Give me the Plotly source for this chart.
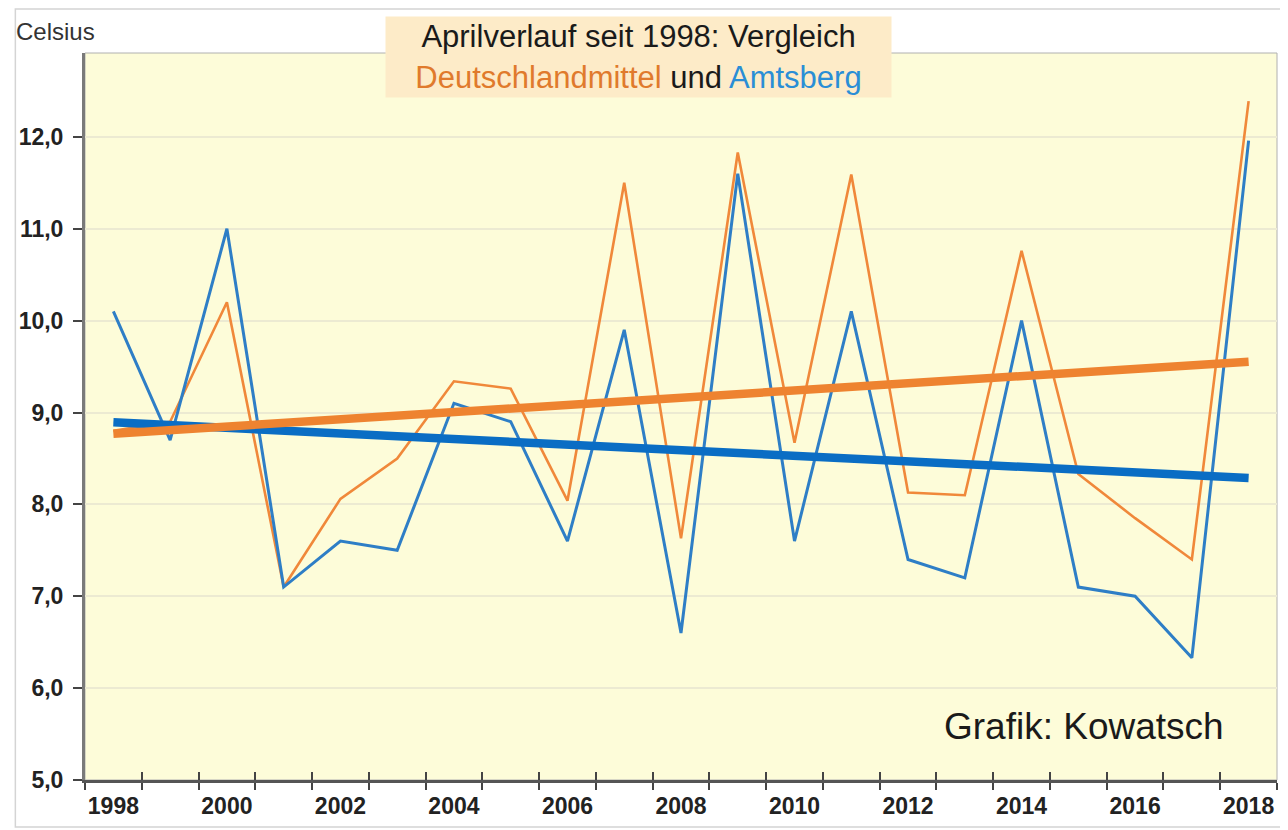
import numpy as np
import plotly.graph_objects as go

# ---------------- data ----------------
years = list(range(1998, 2019))
deutschland = [8.8, 8.9, 10.2, 7.1, 8.06, 8.5, 9.34, 9.26, 8.04, 11.5, 7.63,
               11.83, 8.67, 11.59, 8.13, 8.10, 10.76, 8.33, 7.85, 7.40, 12.39]
amtsberg = [10.1, 8.7, 11.0, 7.1, 7.6, 7.5, 9.1, 8.9, 7.6, 9.9, 6.6,
            11.6, 7.6, 10.1, 7.4, 7.2, 10.0, 7.1, 7.0, 6.33, 11.96]
label_years = list(range(1998, 2019, 2))

# linear trends computed from the data
trend_years = [years[0], years[-1]]
d_fit = np.polyfit(years, deutschland, 1)
a_fit = np.polyfit(years, amtsberg, 1)
d_trend = list(np.polyval(d_fit, trend_years))
a_trend = list(np.polyval(a_fit, trend_years))

# ---------------- style ----------------
FONT = "Liberation Sans, Arial, sans-serif"
ORANGE = "#f0883a"
ORANGE_T = "#ee8330"
BLUE = "#2e7ec6"
BLUE_T = "#0a6dc4"

# page has an 8px body margin -> figure is placed at (8, 8)
OFF = 8
W, H = 1288 - OFF, 830 - OFF
# plot area in page pixels
L, R, T, B = 79, 1277, 53, 781


def px_x(px):
    return (px - L) / (R - L)


def px_y(py):
    return (B - py) / (B - T)


fig = go.Figure()
fig.add_trace(go.Scatter(x=years, y=deutschland, mode="lines",
                         line=dict(color=ORANGE, width=2.6), showlegend=False))
fig.add_trace(go.Scatter(x=years, y=amtsberg, mode="lines",
                         line=dict(color=BLUE, width=3), showlegend=False))
fig.add_trace(go.Scatter(x=trend_years, y=a_trend, mode="lines",
                         line=dict(color=BLUE_T, width=8.5), showlegend=False))
fig.add_trace(go.Scatter(x=trend_years, y=d_trend, mode="lines",
                         line=dict(color=ORANGE_T, width=8.5), showlegend=False))

fig.update_layout(
    width=W, height=H,
    margin=dict(l=L - OFF, r=(W + OFF) - R, t=T - OFF, b=(H + OFF) - B),
    paper_bgcolor="white",
    plot_bgcolor="#fdfcd9",
    separators=",.",
    font=dict(family=FONT, color="#222"),
    showlegend=False,
    xaxis=dict(
        range=[1997.5, 2018.5],
        tickmode="array", tickvals=label_years, ticktext=[str(y) for y in label_years],
        ticks="", showgrid=False, zeroline=False,
        showline=True, linecolor="#555", linewidth=2.5,
        ticklabelstandoff=4,
        tickfont=dict(family=FONT, size=23, color="#222", weight="bold"),
        minor=dict(tickmode="linear", tick0=1998.5, dtick=1, ticks="outside",
                   ticklen=7, tickwidth=2, tickcolor="#444", showgrid=False),
    ),
    xaxis2=dict(
        range=[1997.5, 2018.5], overlaying="x", anchor="y", side="bottom",
        tickmode="linear", tick0=1998.5, dtick=1, ticks="inside",
        ticklen=8, tickwidth=2, tickcolor="#444",
        showticklabels=False, showgrid=False, zeroline=False, showline=False,
    ),
    yaxis=dict(
        range=[5, 12 + (137 - T) / 92.0], tickmode="linear", tick0=5, dtick=1,
        tickformat=".1f", ticks="outside", ticklen=9, tickwidth=2, tickcolor="#444",
        ticklabelstandoff=5,
        showgrid=True, gridcolor="#ecead2", gridwidth=1.5, zeroline=False,
        showline=True, linecolor="#7a7a7a", linewidth=3,
        tickfont=dict(family=FONT, size=23, color="#222", weight="bold"),
    ),
)

# invisible trace so the overlay axis is drawn
fig.add_trace(go.Scatter(x=[years[0]], y=[deutschland[0]], xaxis="x2", mode="markers",
                         marker=dict(opacity=0), hoverinfo="skip", showlegend=False))

# thin plot-area border (top/right) and outer frame
fig.add_shape(type="rect", xref="paper", yref="paper", x0=0, y0=0, x1=1, y1=1,
              line=dict(color="#b0b0b0", width=1), layer="below")
fig.add_shape(type="rect", xref="paper", yref="paper",
              x0=px_x(9), x1=px_x(1283), y0=px_y(828), y1=px_y(9),
              line=dict(color="#d4d4d4", width=1.5), layer="below")

fig.add_annotation(xref="paper", yref="paper", x=px_x(8), y=px_y(31),
                   xanchor="left", yanchor="middle", showarrow=False,
                   text="Celsius", font=dict(family=FONT, size=24, color="#333"))

fig.add_annotation(xref="paper", yref="paper", x=px_x(635), y=px_y(57),
                   xanchor="center", yanchor="middle", showarrow=False,
                   width=503, height=78, borderpad=1, bgcolor="#fdebc8",
                   text=("Aprilverlauf seit 1998: Vergleich<br>"
                         "<span style='color:#e07a2c'>Deutschlandmittel</span> und "
                         "<span style='color:#2a8ed6'>Amtsberg</span>"),
                   font=dict(family=FONT, size=31, color="#1a1a1a"))

fig.add_annotation(xref="paper", yref="paper", x=px_x(1226), y=px_y(727),
                   xanchor="right", yanchor="middle", showarrow=False,
                   text="Grafik: Kowatsch", font=dict(family=FONT, size=37, color="#1a1a1a"))

fig.write_html("out.html")
